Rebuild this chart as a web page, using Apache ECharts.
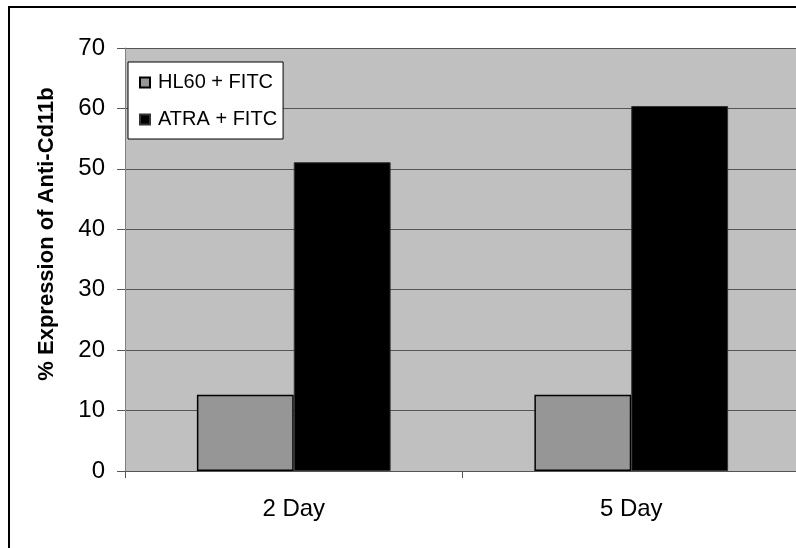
<!DOCTYPE html>
<html>
<head>
<meta charset="utf-8">
<script src="https://cdn.jsdelivr.net/npm/echarts@6/dist/echarts.min.js"></script>
<style>
html,body{margin:0;padding:0;background:#fff;}
#chart{width:796px;height:548px;}
</style>
</head>
<body>
<div id="chart"></div>
<script>
var categories = ['2 Day', '5 Day'];
var seriesNames = ['HL60 + FITC', 'ATRA + FITC'];
var hl60Values = [12.6, 12.6];
var atraValues = [51.1, 60.4];
var yTicks = [0, 10, 20, 30, 40, 50, 60, 70];
var yAxisTitle = '% Expression of Anti-Cd11b';

var FONT = '"Liberation Sans", Arial, sans-serif';
var chart = echarts.init(document.getElementById('chart'));
chart.setOption({
  animation: false,
  backgroundColor: '#ffffff',
  graphic: [{
    type: 'rect',
    shape: { x: 9, y: 7, width: 820, height: 600 },
    style: { fill: 'none', stroke: '#000', lineWidth: 2 },
    z: 100
  }],
  grid: {
    left: 125, top: 48, right: -4, bottom: 77,
    show: true, backgroundColor: '#c0c0c0', borderWidth: 0,
    containLabel: false, outerBoundsMode: 'none'
  },
  legend: {
    orient: 'vertical',
    left: 128, top: 62,
    backgroundColor: '#ffffff',
    borderColor: '#000', borderWidth: 1,
    padding: [10, 6, 9, 11],
    itemWidth: 10, itemHeight: 10, itemGap: 16,
    icon: 'rect',
    textStyle: { fontFamily: FONT, fontSize: 20, color: '#000', lineHeight: 21, padding: [0, 0, 0, 3] },
    data: seriesNames
  },
  xAxis: {
    type: 'category',
    data: categories,
    axisLine: { show: true, lineStyle: { color: '#555', width: 1 } },
    axisTick: { show: true, length: 7, lineStyle: { color: '#555' } },
    axisLabel: { fontFamily: FONT, fontSize: 24, color: '#000', margin: 26 },
    splitLine: { show: false }
  },
  yAxis: {
    type: 'value',
    min: yTicks[0], max: yTicks[yTicks.length - 1], interval: 10,
    name: yAxisTitle,
    nameLocation: 'middle',
    nameGap: 67,
    nameTextStyle: { fontFamily: FONT, fontSize: 22, fontWeight: 'bold', color: '#000', padding: [0, 0, 0, 51] },
    axisLine: { show: true, lineStyle: { color: '#808080', width: 1 } },
    axisTick: { show: true, length: 8, lineStyle: { color: '#555' } },
    axisLabel: { fontFamily: FONT, fontSize: 24, color: '#000', margin: 20 },
    splitLine: { show: true, lineStyle: { color: '#555', width: 1 } }
  },
  series: [
    {
      name: seriesNames[0], type: 'bar', data: hl60Values,
      barGap: '0%', barCategoryGap: '42.6%',
      itemStyle: { color: '#969696', borderColor: '#000', borderWidth: 1.5 }
    },
    {
      name: seriesNames[1], type: 'bar', data: atraValues,
      barGap: '0%', barCategoryGap: '42.6%',
      itemStyle: { color: '#000', borderColor: '#333', borderWidth: 1 }
    }
  ]
});
</script>
</body>
</html>
